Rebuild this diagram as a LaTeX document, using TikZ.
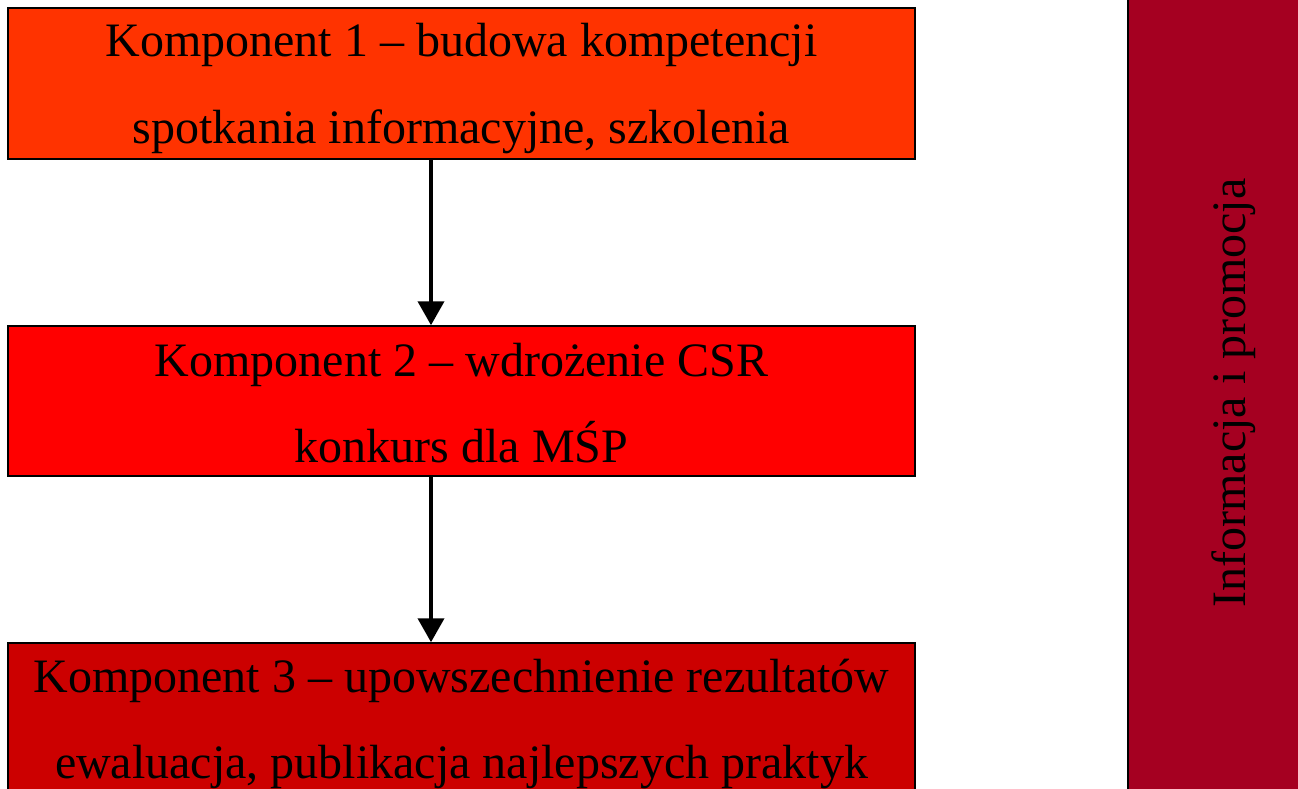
\documentclass[tikz,border=0pt]{standalone}
\usepackage{fontspec}
\setmainfont{Liberation Serif}
\usetikzlibrary{arrows.meta}
\definecolor{cone}{HTML}{FF3300}
\definecolor{ctwo}{HTML}{FF0000}
\definecolor{cthree}{HTML}{CC0000}
\definecolor{cside}{HTML}{A50021}
\tikzset{
  compbox/.style={draw=black, line width=1.5pt, rectangle, inner sep=0pt, minimum width=907pt},
  lbl/.style={anchor=base, inner sep=0pt, font=\fontsize{48}{58}\selectfont},
  flow/.style={line width=4pt, -{Triangle[width=26pt,length=24pt]}}
}
\begin{document}
\begin{tikzpicture}[x=1pt,y=-1pt]
\useasboundingbox (0,0) rectangle (1298,789);
\clip (0,0) rectangle (1298,789);
\fill[white] (0,0) rectangle (1298,789);
% boxes
\node[compbox, fill=cone, minimum height=151pt] (b1) at (461.5,83.5) {};
\node[compbox, fill=ctwo, minimum height=150pt] (b2) at (461.5,401) {};
\node[compbox, fill=cthree, minimum height=170pt] (b3) at (461.5,728) {};
\node[draw=black, line width=2pt, fill=cside, rectangle, inner sep=0pt, minimum width=185pt, minimum height=820pt] (side) at (1220.5,394.5) {};
% texts
\node[lbl] (t1a) at (461.5,57) {Komponent 1 – budowa kompetencji};
\node[lbl] (t1b) at (461.5,143) {spotkania informacyjne, szkolenia};
\node[lbl] (t2a) at (461.5,376) {Komponent 2 – wdrożenie CSR};
\node[lbl] (t2b) at (461.5,462) {konkurs dla MŚP};
\node[lbl] (t3a) at (461.5,692) {Komponent 3 – upowszechnienie rezultatów};
\node[lbl] (t3b) at (461.5,778) {ewaluacja, publikacja najlepszych praktyk};
\node[lbl, rotate=90] (ts) at (1245,393) {Informacja i promocja};
% arrows
\draw[flow] ([xshift=-30.5pt]b1.south) -- ([xshift=-30.5pt]b2.north);
\draw[flow] ([xshift=-30.5pt]b2.south) -- ([xshift=-30.5pt]b3.north);
\end{tikzpicture}
\end{document}
